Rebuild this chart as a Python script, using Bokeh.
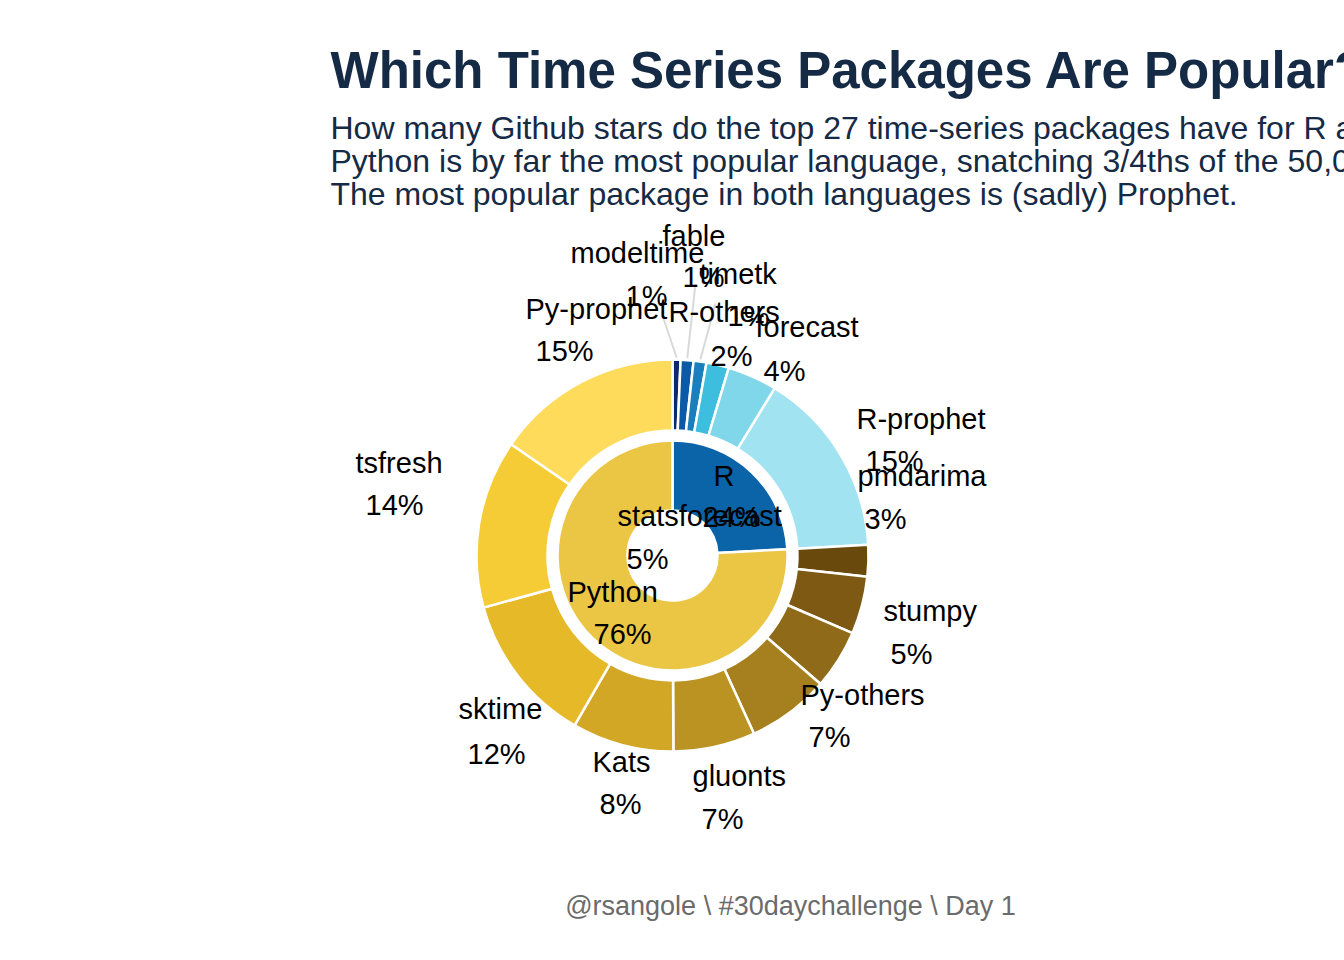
import math
from bokeh.plotting import figure
from bokeh.models import Range1d
from bokeh.embed import file_html
from bokeh.resources import INLINE
from bokeh.core.properties import value

# ---------------- data ----------------
languages = ["R", "Python"]
language_colors = ["#0b63a8", "#ebc645"]

packages = ["modeltime", "fable", "timetk", "R-others", "forecast", "R-prophet",
            "pmdarima", "stumpy", "statsforecast", "Py-others", "gluonts", "Kats",
            "sktime", "tsfresh", "Py-prophet"]
package_language = ["R"] * 6 + ["Python"] * 9
stars = [330, 530, 530, 930, 2050, 7700,
         1300, 2380, 2450, 3400, 3380, 4200, 6200, 6950, 7700]
package_colors = ["#0c2b6e", "#0c5aa6", "#1a80bd", "#3dbede", "#80d7ea", "#a2e3f1",
                  "#6a4a0c", "#7d5913", "#8f6a18", "#a6801e", "#bb9322", "#d1a725",
                  "#e6b928", "#f5cc35", "#fedb5b"]

title = "Which Time Series Packages Are Popular?"
subtitle = ["How many Github stars do the top 27 time-series packages have for R and Python?",
            "Python is by far the most popular language, snatching 3/4ths of the 50,000+ stars.",
            "The most popular package in both languages is (sadly) Prophet."]
caption = "@rsangole \\ #30daychallenge \\ Day 1"

# ---------------- layout (screen px; donut centre at CX, CY) ----------------
W, H = 1344, 960
CX, CY = 672, 555
R_HOLE, R_IN_OUT, R_OUT_IN, R_OUT = 45, 115, 125, 196
FONT = "Liberation Sans"
LABEL_PX = 29
TITLE_PX = 51
SUB_PX = 32
CAP_PX = 27

# repelled label placement: name (left x, baseline y), pct (left x, baseline y)
label_layout = {
    "modeltime": ((570, 264), (625, 307)),
    "fable": ((662, 247), (682, 288)),
    "timetk": ((699, 285), (727, 327)),
    "R-others": ((668, 323), (710, 367)),
    "forecast": ((755, 338), (763, 382)),
    "R-prophet": ((856, 430), (865, 472)),
    "pmdarima": ((857, 487), (864, 530)),
    "stumpy": ((883, 622), (890, 665)),
    "statsforecast": ((617, 527), (626, 570)),
    "Py-others": ((800, 706), (808, 748)),
    "gluonts": ((692, 787), (701, 830)),
    "Kats": ((592, 773), (599, 815)),
    "sktime": ((458, 720), (467, 765)),
    "tsfresh": ((355, 474), (365, 516)),
    "Py-prophet": ((525, 320), (535, 362)),
    "R": ((713, 487), (702, 528)),
    "Python": ((567, 603), (593, 645)),
}
# leader-line end points for the labels that were pushed away
leader_end = {"modeltime": (663, 318), "fable": (695, 283), "timetk": (715, 303)}


def dx(x):
    return x - CX


def dy(y, size=0):
    # baseline (screen) -> data y, corrected for how the text is anchored
    return CY - (y - 0.38 * size)


# ---------------- derived ----------------
total = float(sum(stars))
lang_totals = [sum(s for s, l in zip(stars, package_language) if l == lang) for lang in languages]


def wedges(values):
    starts, ends, mids = [], [], []
    acc = 0.0
    for v in values:
        a0 = acc / total * 2 * math.pi
        acc += v
        a1 = acc / total * 2 * math.pi
        starts.append(math.pi / 2 - a0)
        ends.append(math.pi / 2 - a1)
        mids.append((a0 + a1) / 2)
    return starts, ends, mids


p = figure(width=W, height=H, x_range=Range1d(-CX, W - CX), y_range=Range1d(CY - H, CY),
           x_axis_type=None, y_axis_type=None, toolbar_location=None,
           output_backend="svg", min_border=0, outline_line_color=None,
           background_fill_color="white", border_fill_color="white")

# inner ring (languages)
s_in, e_in, m_in = wedges(lang_totals)
p.annular_wedge(x=0, y=0, inner_radius=R_HOLE, outer_radius=R_IN_OUT,
                start_angle=s_in, end_angle=e_in, direction="clock",
                fill_color=language_colors, line_color="white", line_width=2.5)

# outer ring (packages)
s_out, e_out, m_out = wedges(stars)
p.annular_wedge(x=0, y=0, inner_radius=R_OUT_IN, outer_radius=R_OUT,
                start_angle=s_out, end_angle=e_out, direction="clock",
                fill_color=package_colors, line_color="white", line_width=2.5)

# leader lines
x0s, y0s, x1s, y1s = [], [], [], []
for name, mid in zip(packages, m_out):
    if name in leader_end:
        x0s.append((R_OUT + 2) * math.sin(mid))
        y0s.append((R_OUT + 2) * math.cos(mid))
        ex, ey = leader_end[name]
        x1s.append(dx(ex))
        y1s.append(dy(ey))
p.segment(x0=x0s, y0=y0s, x1=x1s, y1=y1s, line_color="#d9d9d9", line_width=2)

# labels
names = packages + languages
values_all = stars + lang_totals
pcts = ["%d%%" % round(v / total * 100) for v in values_all]
nx = [dx(label_layout[n][0][0]) for n in names]
ny = [dy(label_layout[n][0][1], LABEL_PX) for n in names]
px_ = [dx(label_layout[n][1][0]) for n in names]
py_ = [dy(label_layout[n][1][1], LABEL_PX) for n in names]
p.text(x=nx, y=ny, text=names, text_font=value(FONT), text_font_size="%dpx" % LABEL_PX,
       text_color="black", text_align="left", text_baseline="alphabetic")
p.text(x=px_, y=py_, text=pcts, text_font=value(FONT), text_font_size="%dpx" % LABEL_PX,
       text_color="black", text_align="left", text_baseline="alphabetic")

# titles
NAVY = "#152a45"
p.text(x=[dx(330)], y=[dy(89, TITLE_PX)], text=[title], text_font=value(FONT),
       text_font_style="bold", text_font_size="%dpx" % TITLE_PX, text_color=NAVY,
       text_align="left", text_baseline="alphabetic")
p.text(x=[dx(330)] * 3, y=[dy(140, SUB_PX), dy(173, SUB_PX), dy(206, SUB_PX)], text=subtitle,
       text_font=value(FONT), text_font_size="%dpx" % SUB_PX, text_color=NAVY,
       text_align="left", text_baseline="alphabetic")
p.text(x=[dx(790)], y=[dy(916, CAP_PX)], text=[caption], text_font=value(FONT),
       text_font_size="%dpx" % CAP_PX, text_color="#6b6b6b",
       text_align="center", text_baseline="alphabetic")

open("out.html", "w").write(file_html(p, INLINE))
